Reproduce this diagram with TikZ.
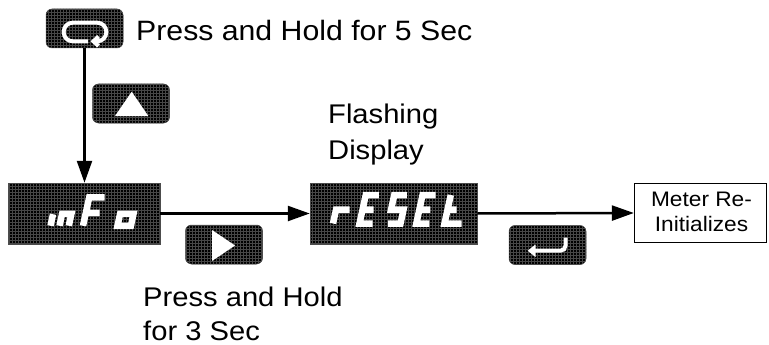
\documentclass[tikz,border=0pt]{standalone}
\usepackage{fontspec}
\setmainfont[FakeStretch=1.08]{Liberation Sans}
\usetikzlibrary{arrows.meta,patterns}
\tikzset{
  panel/.style={preaction={fill=black}, pattern=grid, pattern color=black!72, draw=black!70, line width=0.5pt, inner sep=0pt},
  lcd/.style={panel, rectangle, minimum width=#1, minimum height=61pt},
  keybtn/.style={panel, rectangle, rounded corners=6pt, minimum width=77pt, minimum height=39pt},
  conn/.style={line width=2.5pt, -{Triangle[length=22pt,width=15pt]}},
  glyph/.style={draw=white, line width=6.5pt, line cap=square, line join=miter},
  icon/.style={draw=white, line width=4pt},
  lbl/.style={font=\fontsize{27pt}{36pt}\selectfont, inner sep=0pt, anchor=base west},
  smalllbl/.style={font=\fontsize{21pt}{25pt}\selectfont, inner sep=0pt, anchor=base},
}
\newcommand\sevseg[3]{\begin{scope}[shift={(#1,#2)},y=1pt,xslant=0.22]\draw[glyph] #3;\end{scope}}
\begin{document}
\begin{tikzpicture}[x=1pt,y=-1pt]
\useasboundingbox (0,0) rectangle (769,345);
% keys
\node[keybtn] (loopbtn) at (84.5,28.5) {};
\node[keybtn] (upbtn) at (131,103.5) {};
\node[keybtn] (rightbtn) at (224,244.5) {};
\node[keybtn] (enterbtn) at (547.5,245) {};
% displays
\node[lcd=152pt] (info) at (84,213.5) {};
\node[lcd=167pt] (reset) at (393.5,213.5) {};
\node[draw, line width=1.3pt, minimum width=132pt, minimum height=59pt, inner sep=0pt] (meter) at (700.5,213) {};
% key icons
\draw[icon, rounded corners=9pt] (88,41.3) -- (63.7,41.3) -- (63.7,22.7) -- (106.3,22.7) -- (106.3,41.3) -- (96,41.3);
\draw[icon, line join=miter] (98.5,36.5) -- (93.5,41.3) -- (98.5,46);
\fill[white] (131.7,91.7) -- (148.3,116) -- (115,116) -- cycle;
\fill[white] (212,230) -- (235,245.5) -- (212,261) -- cycle;
\draw[icon, rounded corners=5pt] (565.5,237.5) -- (565.5,250.7) -- (534,250.7);
\fill[white] (527.7,250.7) -- (535.5,244.5) -- (535.5,257) -- cycle;
% inFo
\sevseg{50.5}{225.75}{(0,0)--(0,11.5)}
\sevseg{59.5}{225.75}{(0,0)--(0,12)--(9.3,12)--(9.3,0)}
\sevseg{83}{225.75}{(0,0)--(0,28.5)--(15.4,28.5) (0,13)--(13.8,13)}
\sevseg{117.5}{225.75}{(0,0)--(0,12)--(13.4,12)--(13.4,0)--cycle}
% rESEt
\sevseg{333}{223.5}{(0,0)--(0,14)--(13.6,14)}
\sevseg{359.5}{223.5}{(13,28.5)--(0,28.5)--(0,0)--(13,0) (0,14)--(11,14)}
\sevseg{388}{223.5}{(12.5,28.5)--(0,28.5)--(0,14)--(12.5,14)--(12.5,0)--(0,0)}
\sevseg{416.3}{223.5}{(13,28.5)--(0,28.5)--(0,0)--(13,0) (0,14)--(11,14)}
\sevseg{444.5}{223.5}{(0,28.5)--(0,0)--(17,0) (0,14)--(9,14)}
% connectors
\draw[conn] (loopbtn.south) -- (loopbtn.south |- info.north);
\draw[conn] (info.east) -- (reset.west);
\draw[conn] (reset.east) -- (meter.west);
% labels
\node[lbl, font=\fontsize{28pt}{36pt}\selectfont] (t1) at (136,41) {Press and Hold for 5 Sec};
\node[lbl] (fl1) at (328,123.3) {Flashing};
\node[lbl] (fl2) at (328,159) {Display};
\node[lbl] (ph1) at (143,306.7) {Press and Hold};
\node[lbl] (ph2) at (143,340) {for 3 Sec};
\node[smalllbl] (m1) at (701.5,206.3) {Meter Re-};
\node[smalllbl] (m2) at (701.5,231.3) {Initializes};
\end{tikzpicture}
\end{document}
